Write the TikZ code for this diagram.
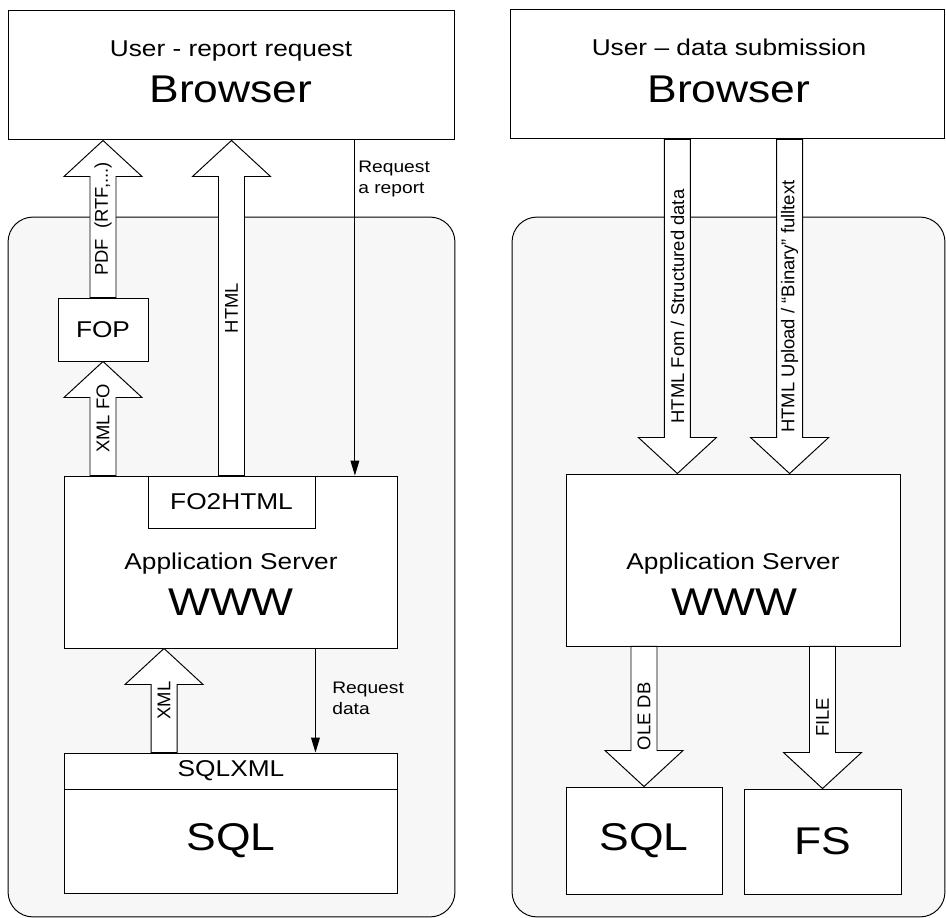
\documentclass[tikz,border=0pt]{standalone}
\usepackage{fontspec}
\setmainfont{Liberation Sans}[FakeStretch=1.15]
\newfontfamily\alongfont{Liberation Sans}
\usetikzlibrary{calc,positioning,arrows.meta}

\tikzstyle{box}    = [draw, fill=white, line width=0.55pt, inner sep=0pt]
\tikzstyle{panel}  = [draw, fill=black!3, line width=0.55pt, rounded corners=0.5cm, inner sep=0pt]
\tikzstyle{fat}    = [draw, fill=white, line width=0.55pt]
\tikzstyle{arrow}  = [line width=0.55pt, -{Triangle[length=8.5pt,width=5pt]}]
\tikzstyle{small}  = [font=\fontsize{9.5}{11.5}\selectfont, align=left, inner sep=0pt]
\tikzstyle{mid}    = [font=\fontsize{13}{15}\selectfont]
\tikzstyle{big}    = [font=\fontsize{22}{26}\selectfont]
\tikzstyle{along}  = [font=\alongfont\fontsize{10.5}{12}\selectfont, rotate=90, inner sep=0pt]

% block arrow: name, tail, tip, label
\newcommand{\fatarrow}[4]{%
  \draw[fat] let \p1=(#2), \p2=(#3), \n1={sign(\y2-\y1)} in
    ({\x2-7.4pt},\y1) -- ({\x2-7.4pt},{\y2-\n1*20.5pt}) -- ({\x2-22.2pt},{\y2-\n1*20.5pt})
    -- (\x2,\y2) -- ({\x2+22.2pt},{\y2-\n1*20.5pt}) -- ({\x2+7.4pt},{\y2-\n1*20.5pt})
    -- ({\x2+7.4pt},\y1) -- cycle
    ({\x2},{(\y1+\y2)/2}) node[along] (#1) {#4};
}

\begin{document}
\begin{tikzpicture}[x=0.02cm,y=-0.02cm]
    \useasboundingbox (0,0) rectangle (946,918);

    % report side
    \node[panel, minimum width=8.94cm, minimum height=14cm] (panelL) at (231.5,567) {};
    \node[box, minimum width=8.94cm, minimum height=2.6cm] (browserL) at (231.5,75) {};
    \node[mid, anchor=base] (userL) at (231,57) {User - report request};
    \node[big, anchor=base] (brwL) at (231,103) {Browser};

    \node[box, mid, minimum width=1.8cm, minimum height=1.26cm] (fop) at (103,329.5) {FOP};
    \node[box, minimum width=6.68cm, minimum height=3.44cm] (appL) at (231,562) {};
    \node[box, mid, minimum width=3.34cm, minimum height=1.04cm] (fohtml) at (231.5,502) {FO2HTML};
    \node[mid, anchor=base] (appLtxt) at (231,569) {Application Server};
    \node[big, anchor=base] (wwwL) at (231,615) {WWW};

    \node[box, mid, minimum width=6.68cm, minimum height=0.72cm] (sqlxml) at (231,771) {SQLXML};
    \node[box, big, minimum width=6.68cm, minimum height=2.08cm] (sqlL) at (231,841) {SQL};

    \fatarrow{pdf}{fop.north}{fop.north |- browserL.south}{PDF~~(RTF,...)}
    \fatarrow{html}{fohtml.north}{fohtml.north |- browserL.south}{HTML}
    \fatarrow{xmlfo}{fop.south |- appL.north}{fop.south}{XML FO}
    \coordinate (xmlup) at ($(appL.south west)!0.3!(appL.south east)$);
    \fatarrow{xml}{xmlup |- sqlxml.north}{xmlup}{XML}

    \coordinate (reqrep) at ($(appL.north west)!0.87!(appL.north east)$);
    \draw[arrow] (reqrep |- browserL.south) -- (reqrep);
    \node[small, anchor=north west] (lblrep) at (358,161) {Request\\a report};
    \draw[arrow] (fohtml.east |- appL.south) -- (fohtml.east |- sqlxml.north);
    \node[small, anchor=north west] (lbldata) at (332,682) {Request\\data};

    % submission side
    \node[panel, minimum width=8.66cm, minimum height=14cm] (panelR) at (728.5,567) {};
    \node[box, minimum width=8.7cm, minimum height=2.6cm] (browserR) at (727.5,74) {};
    \node[mid, anchor=base] (userR) at (729,56) {User -- data submission};
    \node[big, anchor=base] (brwR) at (729,103) {Browser};

    \node[box, minimum width=6.7cm, minimum height=3.44cm] (appR) at (733.5,560) {};
    \node[mid, anchor=base] (appRtxt) at (733,569) {Application Server};
    \node[big, anchor=base] (wwwR) at (734,615) {WWW};
    \node[box, big, minimum width=3.12cm, minimum height=2.14cm] (sqlR) at (644,840.5) {SQL};
    \node[box, big, minimum width=3.14cm, minimum height=2.1cm] (fsR) at (822.5,841.5) {FS};

    \coordinate (formin) at ($(appR.north west)!0.333!(appR.north east)$);
    \coordinate (upin) at ($(appR.north west)!0.667!(appR.north east)$);
    \fatarrow{form}{formin |- browserR.south}{formin}{HTML Fom / Structured data}
    \fatarrow{upload}{upin |- browserR.south}{upin}{HTML Upload / “Binary” fulltext}
    \fatarrow{oledb}{sqlR.north |- appR.south}{sqlR.north}{OLE DB}
    \fatarrow{file}{fsR.north |- appR.south}{fsR.north}{FILE}
\end{tikzpicture}
\end{document}
